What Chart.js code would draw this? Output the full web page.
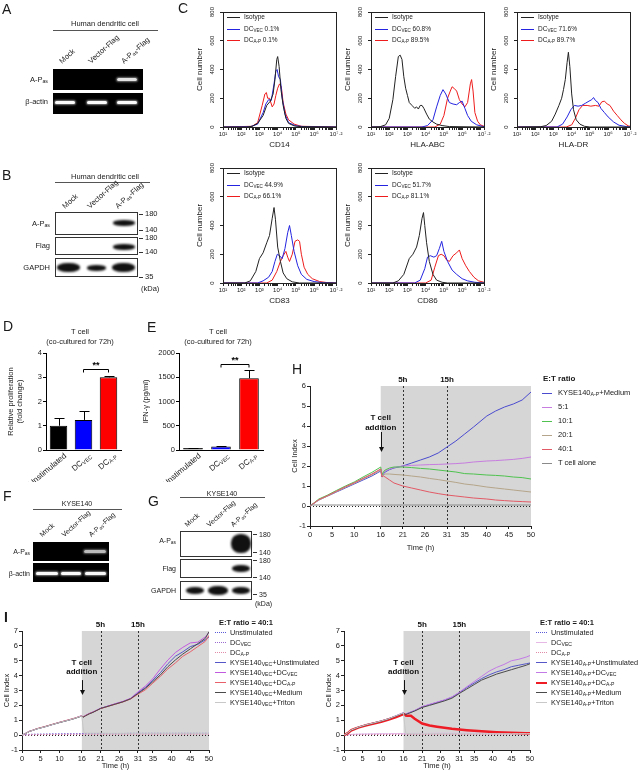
<!DOCTYPE html>
<html>
<head>
<meta charset="utf-8">
<script src="https://cdn.jsdelivr.net/npm/chart.js"></script>
<style>
  body { margin: 0; background: #fff; }
  #fig { position: relative; width: 640px; height: 771px; overflow: hidden; font-family: "Liberation Sans", Arial, sans-serif; color: #1a1a1a; }
  #fig canvas { position: absolute; }
  .t { position: absolute; white-space: nowrap; line-height: 1; filter: grayscale(1); }
  .t sub { font-size: 70%; vertical-align: -1px; line-height: 0; }
  .blk { position: absolute; }
</style>
</head>
<body>
<div id="fig"></div>
<script>
// ---------- datos ----------
// C: histogramas (log10 de la fluorescencia, numero de celulas)
const histTickLabels = ['10¹', '10²', '10³', '10⁴', '10⁵', '10⁶', '10⁷·²'];
const histTickVals = [1, 2, 3, 4, 5, 6, 7.2];

const cd14Iso = [[1,0],[2.3,0],[2.6,5],[2.9,25],[3.2,80],[3.4,150],[3.6,180],[3.75,230],[3.85,330],[3.95,470],[4.0,490],[4.08,420],[4.18,260],[4.3,150],[4.45,60],[4.6,25],[4.9,8],[5.3,2],[7.2,0]];
const cd14Vec = [[1,0],[2.5,2],[2.9,20],[3.2,100],[3.35,160],[3.5,190],[3.65,185],[3.8,300],[3.9,390],[3.97,400],[4.05,350],[4.15,330],[4.25,200],[4.4,90],[4.6,30],[5,8],[5.5,2],[7.2,0]];
const cd14Ap = [[1,0],[2.0,3],[2.6,5],[2.9,30],[3.15,150],[3.3,230],[3.38,240],[3.45,200],[3.55,200],[3.7,140],[3.8,160],[3.9,220],[4.0,270],[4.1,300],[4.2,280],[4.3,170],[4.45,90],[4.6,50],[4.9,20],[5.3,5],[7.2,0]];

const abcIso = [[1,0],[1.5,2],[1.8,15],[2.0,60],[2.2,190],[2.35,350],[2.5,490],[2.6,500],[2.7,470],[2.8,350],[2.9,270],[3.0,220],[3.1,170],[3.25,150],[3.4,130],[3.5,140],[3.6,125],[3.7,150],[3.8,150],[3.9,130],[4.05,90],[4.2,55],[4.4,35],[4.6,20],[4.9,10],[5.3,3],[7.2,0]];
const abcVec = [[1,0],[3.8,0],[4.1,10],[4.4,50],[4.6,140],[4.8,220],[4.95,260],[5.1,230],[5.3,170],[5.5,160],[5.7,155],[5.85,170],[6.0,180],[6.15,130],[6.3,80],[6.5,40],[6.8,15],[7.1,5],[7.2,3]];
const abcAp = [[1,0],[4.5,0],[4.8,20],[5.0,80],[5.2,200],[5.35,250],[5.45,280],[5.55,270],[5.7,250],[5.85,190],[6.0,160],[6.15,140],[6.3,170],[6.45,300],[6.52,330],[6.6,250],[6.7,100],[6.85,40],[7.0,15],[7.2,5]];

const drIso = [[1,0],[2.3,2],[2.6,10],[2.9,40],[3.1,90],[3.3,150],[3.45,200],[3.55,260],[3.65,330],[3.75,450],[3.82,520],[3.9,420],[4.0,230],[4.1,120],[4.25,50],[4.45,20],[4.7,5],[5,0],[7.2,0]];
const drVec = [[1,0],[3.2,0],[3.5,20],[3.75,70],[3.95,120],[4.15,150],[4.35,145],[4.55,150],[4.75,165],[4.95,180],[5.1,190],[5.2,205],[5.3,185],[5.45,170],[5.6,130],[5.8,100],[6.0,70],[6.3,35],[6.6,12],[7.0,3],[7.2,0]];
const drAp = [[1,0],[3.7,0],[4.0,15],[4.2,60],[4.4,120],[4.6,150],[4.85,150],[5.05,145],[5.3,150],[5.5,145],[5.65,175],[5.8,180],[5.95,160],[6.1,150],[6.3,110],[6.5,80],[6.7,50],[6.9,25],[7.1,8],[7.2,5]];

const cd83Iso = [[1,0],[2.2,0],[2.5,15],[2.8,80],[3.0,170],[3.2,210],[3.4,280],[3.55,330],[3.7,450],[3.8,525],[3.88,440],[4.0,250],[4.15,150],[4.3,70],[4.5,30],[4.8,8],[5.2,0],[7.2,0]];
const cd83Vec = [[1,0],[2.9,0],[3.2,15],[3.5,40],[3.7,80],[3.85,150],[3.98,200],[4.1,190],[4.25,170],[4.4,240],[4.55,350],[4.65,400],[4.75,330],[4.9,220],[5.1,120],[5.3,60],[5.6,25],[6.0,10],[6.5,2],[7.2,0]];
const cd83Ap = [[1,0],[3.4,0],[3.7,20],[3.95,80],[4.15,150],[4.3,190],[4.45,220],[4.55,180],[4.65,150],[4.8,200],[4.95,290],[5.1,300],[5.2,290],[5.3,200],[5.45,110],[5.65,60],[5.9,30],[6.3,10],[6.7,3],[7.2,0]];

const cd86Iso = [[1,0],[2.2,0],[2.5,15],[2.8,60],[3.1,170],[3.3,200],[3.5,250],[3.65,330],[3.8,450],[3.88,490],[3.95,400],[4.05,280],[4.2,150],[4.4,60],[4.6,20],[4.9,5],[5.2,0],[7.2,0]];
const cd86Vec = [[1,0],[3.4,0],[3.7,20],[3.95,100],[4.1,180],[4.25,190],[4.45,180],[4.6,190],[4.75,240],[4.88,290],[5.0,220],[5.2,150],[5.45,90],[5.7,60],[6.0,30],[6.3,15],[6.7,5],[7.2,0]];
const cd86Ap = [[1,0],[4.0,0],[4.3,20],[4.5,110],[4.7,190],[4.85,200],[5.0,190],[5.15,160],[5.3,150],[5.5,190],[5.7,210],[5.85,230],[6.0,170],[6.2,120],[6.4,80],[6.65,40],[6.9,15],[7.2,5]];

// D y E: barras
const barLabels = ['Unstimulated', 'DCVEC', 'DCA-P'];
const barMain = ['Unstimulated', 'DC', 'DC'];
const barSub = ['', 'VEC', 'A-P'];
const dValues = [1.0, 1.24, 3.0];
const dErr = [0.3, 0.38, 0.07];
const eValues = [40, 70, 1480];
const eErr = [10, 12, 160];

// H: curvas de Cell Index
const timeTicks = [0, 5, 10, 16, 21, 26, 31, 35, 40, 45, 50];
const tH = [0,2,4,6,8,10,12,14,16,16.3,16.6,17,18,19,21,23,25,27,29,31,33,35,37,40,42,44,46,48,50];
const hMedium = [0,0.3,0.5,0.7,0.9,1.1,1.3,1.5,1.75, 1.45,1.6,1.7,1.82,1.9,2.0,2.15,2.3,2.45,2.65,2.95,3.25,3.6,3.95,4.5,4.75,4.95,5.1,5.3,5.7];
const h5 = [0,0.32,0.52,0.74,0.95,1.15,1.38,1.58,1.85, 1.5,1.65,1.75,1.85,1.92,2.0,2.03,2.05,2.07,2.08,2.1,2.12,2.15,2.2,2.25,2.27,2.3,2.33,2.38,2.45];
const h10 = [0,0.35,0.55,0.78,1.0,1.2,1.45,1.68,1.95, 1.55,1.7,1.8,1.9,1.95,1.95,1.92,1.88,1.85,1.8,1.75,1.7,1.62,1.6,1.55,1.53,1.5,1.45,1.42,1.35];
const h20 = [0,0.3,0.5,0.72,0.93,1.13,1.35,1.55,1.8, 1.5,1.55,1.6,1.6,1.58,1.55,1.5,1.45,1.38,1.32,1.25,1.18,1.1,1.05,0.95,0.9,0.85,0.8,0.75,0.7];
const h40 = [0,0.32,0.52,0.74,0.96,1.16,1.38,1.6,1.85, 1.45,1.5,1.45,1.3,1.15,1.0,0.9,0.8,0.7,0.62,0.55,0.5,0.45,0.4,0.35,0.3,0.27,0.24,0.22,0.2];
const hTcell = [0.05,0.05,0.05,0.05,0.05,0.05,0.05,0.05,0.05, 0.05,0.05,0.05,0.05,0.05,0.05,0.05,0.05,0.05,0.05,0.05,0.05,0.05,0.05,0.05,0.05,0.05,0.05,0.05,0.05];
const hNames = ['KYSE140<sub>A-P</sub>+Medium', '5:1', '10:1', '20:1', '40:1', 'T cell alone'];
const hColors = ['#4b4bd0', '#c77ddf', '#4fc24f', '#b5a58a', '#e25a66', '#8a8a8a'];

// I: curvas con E:T = 40:1
const tI = [0,1,2,3,4,6,8,10,12,14,16,16.3,16.6,17,18,19,21,23,25,27,29,31,33,35,37,39,41,43,45,47,49,50];
const iLUnst = [0.02,0.04,0.05,0.06,0.06,0.07,0.08,0.08,0.09,0.09,0.1,0.1,0.1,0.1,0.1,0.11,0.11,0.11,0.11,0.11,0.12,0.12,0.12,0.12,0.12,0.12,0.12,0.12,0.12,0.12,0.12,0.12];
const iLDcVec = [0,0.02,0.03,0.04,0.05,0.05,0.06,0.07,0.07,0.08,0.08,0.08,0.08,0.08,0.09,0.09,0.09,0.09,0.09,0.1,0.1,0.1,0.1,0.1,0.1,0.1,0.1,0.1,0.1,0.1,0.1,0.1];
const iLDcAp = [0,0.01,0.02,0.03,0.03,0.04,0.04,0.04,0.05,0.05,0.05,0.05,0.05,0.05,0.05,0.05,0.05,0.06,0.06,0.06,0.06,0.06,0.06,0.06,0.06,0.06,0.06,0.06,0.06,0.06,0.06,0.06];
const iLKUnst = [0,0.12,0.25,0.33,0.42,0.55,0.7,0.85,0.98,1.12,1.3,1.22,1.25,1.32,1.45,1.55,1.8,1.95,2.1,2.25,2.45,2.85,3.2,3.7,4.2,4.8,5.3,5.6,5.95,6.1,6.4,6.6];
const iLKDcVec = [0,0.13,0.26,0.34,0.43,0.56,0.71,0.86,0.99,1.13,1.32,1.24,1.27,1.33,1.46,1.56,1.8,1.96,2.12,2.27,2.47,2.9,3.3,3.8,4.45,5.05,5.55,5.9,6.2,6.25,6.6,6.9];
const iLKDcAp = [0,0.12,0.26,0.34,0.44,0.57,0.72,0.86,1.0,1.14,1.3,1.22,1.25,1.31,1.44,1.54,1.78,1.93,2.08,2.23,2.42,2.75,3.05,3.5,3.95,4.45,4.85,5.3,5.6,5.95,6.3,6.7];
const iLKMed = [0,0.12,0.25,0.33,0.42,0.55,0.7,0.84,0.97,1.11,1.28,1.2,1.24,1.3,1.43,1.53,1.79,1.94,2.09,2.24,2.44,2.8,3.15,3.6,4.05,4.6,5.05,5.45,5.8,6.15,6.5,6.95];
const iLKTriton = [0,0.12,0.25,0.33,0.42,0.55,0.7,0.85,0.98,1.12,1.3,0.6,0.15,0.14,0.13,0.13,0.13,0.12,0.12,0.12,0.12,0.12,0.12,0.12,0.12,0.12,0.12,0.12,0.12,0.12,0.12,0.12];

const iRUnst = [0.02,0.03,0.04,0.05,0.05,0.06,0.06,0.07,0.07,0.08,0.08,0.08,0.08,0.08,0.09,0.09,0.09,0.09,0.1,0.1,0.1,0.1,0.1,0.1,0.1,0.1,0.1,0.1,0.1,0.1,0.1,0.1];
const iRDcVec = [0,0.03,0.05,0.06,0.07,0.08,0.09,0.1,0.1,0.11,0.11,0.11,0.11,0.11,0.12,0.12,0.12,0.12,0.13,0.13,0.13,0.13,0.13,0.13,0.13,0.13,0.13,0.13,0.13,0.13,0.13,0.13];
const iRDcAp = [0,0.01,0.02,0.02,0.03,0.03,0.04,0.04,0.04,0.05,0.05,0.05,0.05,0.05,0.05,0.05,0.05,0.05,0.05,0.05,0.05,0.05,0.05,0.05,0.05,0.05,0.05,0.05,0.05,0.05,0.05,0.05];
const iRKUnst = [0,0.15,0.35,0.45,0.55,0.7,0.82,0.95,1.1,1.3,1.5,1.42,1.4,1.45,1.55,1.65,1.9,2.05,2.2,2.35,2.55,2.85,3.2,3.5,3.8,4.05,4.25,4.4,4.6,4.7,4.8,4.85];
const iRKDcVec = [0,0.15,0.35,0.46,0.56,0.71,0.83,0.96,1.11,1.31,1.52,1.43,1.41,1.46,1.56,1.66,1.92,2.07,2.22,2.37,2.57,2.88,3.25,3.6,3.95,4.3,4.55,4.75,5.0,5.1,5.25,5.35];
const iRKDcAp = [0,0.13,0.33,0.43,0.52,0.66,0.78,0.9,1.05,1.22,1.42,1.38,1.32,1.3,1.3,1.1,0.78,0.65,0.57,0.5,0.43,0.38,0.33,0.29,0.26,0.23,0.2,0.18,0.16,0.15,0.13,0.12];
const iRKMed = [0,0.14,0.34,0.44,0.54,0.69,0.81,0.94,1.09,1.28,1.48,1.4,1.38,1.43,1.52,1.62,1.86,2.0,2.15,2.3,2.48,2.8,3.1,3.4,3.7,3.9,4.1,4.25,4.4,4.55,4.7,4.8];
const iRKTriton = [0,0.15,0.35,0.45,0.55,0.7,0.82,0.95,1.1,1.3,1.5,0.7,0.12,0.11,0.1,0.1,0.1,0.1,0.1,0.1,0.1,0.1,0.1,0.1,0.1,0.1,0.1,0.1,0.1,0.1,0.1,0.1];

const iLeftNames = ['Unstimulated', 'DC<sub>VEC</sub>', 'DC<sub>A-P</sub>', 'KYSE140<sub>VEC</sub>+Unstimulated', 'KYSE140<sub>VEC</sub>+DC<sub>VEC</sub>', 'KYSE140<sub>VEC</sub>+DC<sub>A-P</sub>', 'KYSE140<sub>VEC</sub>+Medium', 'KYSE140<sub>VEC</sub>+Triton'];
const iRightNames = ['Unstimulated', 'DC<sub>VEC</sub>', 'DC<sub>A-P</sub>', 'KYSE140<sub>A-P</sub>+Unstimulated', 'KYSE140<sub>A-P</sub>+DC<sub>VEC</sub>', 'KYSE140<sub>A-P</sub>+DC<sub>A-P</sub>', 'KYSE140<sub>A-P</sub>+Medium', 'KYSE140<sub>A-P</sub>+Triton'];
const iLeftColors = ['#5a5ad8', '#9a6ad0', '#e08aa8', '#5656c8', '#c25ae0', '#e8606a', '#4a4a4a', '#c8c8c8'];
const iRightColors = ['#5a5ad8', '#e6b8e6', '#e08aa8', '#5656c8', '#c27ae6', '#ee1c25', '#4a4a4a', '#c8c8c8'];

// geles / blots
const laneNames = ['Mock', 'Vector-Flag', 'A-P<sub>as</sub>-Flag'];

// ---------- utilidades ----------
const fig = document.getElementById('fig');
Chart.defaults.font.family = '"Liberation Sans", Arial, sans-serif';
Chart.defaults.font.size = 7;
Chart.defaults.color = '#1a1a1a';

function put(html, x, y, o = {}) {
  const d = document.createElement('div');
  d.className = 't';
  d.innerHTML = html;
  d.style.left = x + 'px';
  d.style.top = y + 'px';
  d.style.fontSize = (o.size || 7.5) + 'px';
  if (o.bold) d.style.fontWeight = 'bold';
  const tx = o.align === 'c' ? '-50%' : o.align === 'r' ? '-100%' : '0';
  d.style.transform = `translate(${tx},-50%)`;
  fig.appendChild(d);
  return d;
}

function lane(html, x, y, size) {
  const d = document.createElement('div');
  d.className = 't';
  d.innerHTML = html;
  d.style.left = x + 'px';
  d.style.top = y + 'px';
  d.style.fontSize = size + 'px';
  d.style.transformOrigin = '0 0';
  d.style.transform = 'rotate(-42deg) translateY(-100%)';
  fig.appendChild(d);
}

function blk(x, y, w, h, css) {
  const d = document.createElement('div');
  d.className = 'blk';
  d.style.left = x + 'px';
  d.style.top = y + 'px';
  d.style.width = w + 'px';
  d.style.height = h + 'px';
  Object.assign(d.style, css);
  fig.appendChild(d);
}

function hline(x1, x2, y) { blk(x1, y, x2 - x1, 1, { background: '#555' }); }

function gelBand(x1, x2, y, op) {
  blk(x1, y - 1.5, x2 - x1, 3, { background: `rgba(250,250,250,${op})`, borderRadius: '2px', boxShadow: `0 0 2px 1px rgba(255,255,255,${op * 0.5})` });
}

function wbBand(x1, x2, y1, y2) {
  blk(x1, y1, x2 - x1, y2 - y1, { background: '#111', borderRadius: '45%', filter: 'blur(0.8px)' });
}

function makeCanvas(x, y, w, h) {
  const c = document.createElement('canvas');
  c.width = w; c.height = h;
  c.style.left = x + 'px'; c.style.top = y + 'px';
  c.style.width = w + 'px'; c.style.height = h + 'px';
  fig.appendChild(c);
  return c;
}

function fixW(w) { return s => { s.width = w; s.paddingTop = 0; s.paddingBottom = 0; s.paddingLeft = 0; s.paddingRight = 0; }; }
function fixH(h) { return s => { s.height = h; s.paddingTop = 0; s.paddingBottom = 0; s.paddingLeft = 0; s.paddingRight = 0; }; }

const framePlugin = {
  id: 'marco',
  afterDatasetsDraw(chart) {
    const a = chart.chartArea, ctx = chart.ctx;
    ctx.save();
    ctx.strokeStyle = '#222'; ctx.lineWidth = 1;
    ctx.strokeRect(Math.round(a.left) + 0.5, Math.round(a.top) + 0.5, Math.round(a.right - a.left), Math.round(a.bottom - a.top));
    // etiquetas del eje y giradas, como en el original
    const ys = chart.scales.y;
    ctx.fillStyle = '#1a1a1a';
    ctx.font = '6px "Liberation Sans", Arial';
    ctx.textAlign = 'center'; ctx.textBaseline = 'bottom';
    ys.ticks.forEach(t => {
      ctx.save();
      ctx.translate(ys.right - 8, ys.getPixelForValue(t.value));
      ctx.rotate(-Math.PI / 2);
      ctx.fillText(String(t.value), 0, 0);
      ctx.restore();
    });
    ctx.restore();
  }
};

// ---------- C: histogramas ----------
const minorTicks = [];
for (let n = 1; n <= 7; n++) for (let k = 1; k <= 9; k++) { const v = n + Math.log10(k); if (v <= 7.2) minorTicks.push(v); }
minorTicks.push(7.2);

function histo(x, y, series, title, legendNames) {
  const cv = makeCanvas(x, y - 4, 160, 148);
  const cols = ['#222', '#2424e0', '#ee1c1c'];
  new Chart(cv, {
    type: 'line',
    data: {
      datasets: series.map((s, i) => ({
        data: s.map(p => ({ x: p[0], y: p[1] })),
        borderColor: cols[i], borderWidth: 1, pointRadius: 0, tension: 0
      }))
    },
    options: {
      responsive: false, animation: false, devicePixelRatio: 1,
      layout: { padding: { top: 8, right: 18, left: 0, bottom: 0 } },
      plugins: { legend: { display: false }, tooltip: { enabled: false } },
      scales: {
        x: {
          type: 'linear', min: 1, max: 7.2,
          afterBuildTicks: s => { s.ticks = minorTicks.map(v => ({ value: v })); },
          afterFit: fixH(25),
          grid: { drawOnChartArea: false, tickLength: 3, color: '#222' },
          border: { color: '#222' },
          ticks: {
            autoSkip: false, maxRotation: 0, padding: 1, font: { size: 6 },
            callback: v => { const i = histTickVals.findIndex(t => Math.abs(t - v) < 1e-6); return i >= 0 ? histTickLabels[i] : ''; }
          },
          title: { display: true, text: title, font: { size: 8 }, padding: { top: 0, bottom: 2 } }
        },
        y: {
          min: 0, max: 800,
          afterFit: fixW(29),
          grid: { drawOnChartArea: false, tickLength: 3, color: '#222' },
          border: { color: '#222' },
          ticks: { stepSize: 200, display: false },
          title: { display: true, text: 'Cell number', font: { size: 8 }, padding: 1 }
        }
      }
    },
    plugins: [framePlugin]
  });
  // leyenda
  const lx = x + 33, ly = y + 9;
  legendNames.forEach((nm, i) => {
    blk(lx, ly + i * 11.5, 13, 1, { background: cols[i] });
    put(nm, lx + 17, ly + i * 11.5, { size: 6.5 });
  });
}

histo(194, 8, [cd14Iso, cd14Vec, cd14Ap], 'CD14', ['Isotype', 'DC<sub>VEC</sub> 0.1%', 'DC<sub>A-P</sub> 0.1%']);
histo(342, 8, [abcIso, abcVec, abcAp], 'HLA-ABC', ['Isotype', 'DC<sub>VEC</sub> 60.8%', 'DC<sub>A-P</sub> 89.5%']);
histo(488, 8, [drIso, drVec, drAp], 'HLA-DR', ['Isotype', 'DC<sub>VEC</sub> 71.6%', 'DC<sub>A-P</sub> 89.7%']);
histo(194, 164, [cd83Iso, cd83Vec, cd83Ap], 'CD83', ['Isotype', 'DC<sub>VEC</sub> 44.9%', 'DC<sub>A-P</sub> 66.1%']);
histo(342, 164, [cd86Iso, cd86Vec, cd86Ap], 'CD86', ['Isotype', 'DC<sub>VEC</sub> 51.7%', 'DC<sub>A-P</sub> 81.1%']);

// ---------- D y E: barras ----------
function barExtras(errs, bracketVal) {
  return {
    id: 'extras',
    afterDatasetsDraw(chart) {
      const ctx = chart.ctx, meta = chart.getDatasetMeta(0), ys = chart.scales.y, xs = chart.scales.x;
      const vals = chart.data.datasets[0].data;
      ctx.save();
      ctx.strokeStyle = '#000'; ctx.lineWidth = 1;
      meta.data.forEach((bar, i) => {
        const y0 = ys.getPixelForValue(vals[i]);
        const y1 = Math.round(ys.getPixelForValue(vals[i] + errs[i])) + 0.5;
        const bx = Math.round(bar.x) + 0.5;
        ctx.beginPath();
        ctx.moveTo(bx, y0); ctx.lineTo(bx, y1);
        ctx.moveTo(bx - 5, y1); ctx.lineTo(bx + 5, y1);
        ctx.stroke();
      });
      // corchete de significancia entre DCVEC y DCA-P
      const b1 = meta.data[1].x, b2 = meta.data[2].x;
      const yb = Math.round(ys.getPixelForValue(bracketVal)) + 0.5;
      ctx.beginPath();
      ctx.moveTo(b1, yb + 3); ctx.lineTo(b1, yb); ctx.lineTo(b2, yb); ctx.lineTo(b2, yb + 3);
      ctx.stroke();
      ctx.fillStyle = '#000';
      ctx.font = 'bold 9px "Liberation Sans", Arial';
      ctx.textAlign = 'center'; ctx.textBaseline = 'bottom';
      ctx.fillText('**', (b1 + b2) / 2, yb + 1);
      // etiquetas rotadas con subindices
      ctx.fillStyle = '#1a1a1a';
      meta.data.forEach((bar, i) => {
        ctx.save();
        ctx.translate(bar.x + 7, xs.top + 5);
        ctx.rotate(-40 * Math.PI / 180);
        ctx.textBaseline = 'middle';
        ctx.font = '5.5px "Liberation Sans", Arial';
        const sw = barSub[i] ? ctx.measureText(barSub[i]).width : 0;
        ctx.textAlign = 'right';
        if (barSub[i]) ctx.fillText(barSub[i], 0, 2);
        ctx.font = '8px "Liberation Sans", Arial';
        ctx.fillText(barMain[i], -sw, 0);
        ctx.restore();
      });
      ctx.restore();
    }
  };
}

function barChart(x, y, w, wy, values, errs, max, step, ytitle, bracketVal) {
  const cv = makeCanvas(x, y, w, 134);
  new Chart(cv, {
    type: 'bar',
    data: {
      labels: barLabels,
      datasets: [{
        data: values,
        backgroundColor: ['#000000', '#0000ff', '#ff0000'],
        borderColor: '#000', borderWidth: 1,
        barPercentage: 0.7, categoryPercentage: 1
      }]
    },
    options: {
      responsive: false, animation: false, devicePixelRatio: 1,
      layout: { padding: { top: 5, right: 4, left: 0, bottom: 0 } },
      plugins: { legend: { display: false }, tooltip: { enabled: false } },
      scales: {
        x: {
          offset: true,
          afterFit: fixH(32),
          grid: { display: false },
          border: { color: '#000' },
          ticks: { display: false }
        },
        y: {
          min: 0, max: max,
          afterFit: fixW(wy),
          grid: { drawOnChartArea: false, tickLength: 3, color: '#000' },
          border: { color: '#000' },
          ticks: { stepSize: step, padding: 1, font: { size: 7.5 }, callback: v => String(v) },
          title: { display: true, text: ytitle, font: { size: 7.5 }, padding: 1 }
        }
      }
    },
    plugins: [barExtras(errs, bracketVal)]
  });
}

barChart(5, 348, 120, 41, dValues, dErr, 4, 1, ['Relative proliferation', '(fold change)'], 3.35);
barChart(140, 348, 127, 39, eValues, eErr, 2000, 500, 'IFN-γ (pg/ml)', 1780);

put('T cell', 80, 332, { align: 'c' });
put('(co-cultured for 72h)', 80, 342, { align: 'c' });
put('T cell', 218, 332, { align: 'c' });
put('(co-cultured for 72h)', 218, 342, { align: 'c' });

// ---------- H e I: curvas ----------
function timePlugin(opt) {
  return {
    id: 'tiempo',
    beforeDatasetsDraw(chart) {
      const { ctx, chartArea: a, scales: { x, y } } = chart;
      const x16 = x.getPixelForValue(16);
      ctx.save();
      ctx.fillStyle = '#d6d6d6';
      ctx.fillRect(x16, a.top, a.right - x16, a.bottom - a.top);
      ctx.strokeStyle = '#333'; ctx.lineWidth = 1;
      ctx.setLineDash([2, 2]);
      [21, 31].forEach(v => {
        const px = Math.round(x.getPixelForValue(v)) + 0.5;
        ctx.beginPath(); ctx.moveTo(px, a.top); ctx.lineTo(px, a.bottom); ctx.stroke();
      });
      ctx.setLineDash([1, 2]);
      ctx.strokeStyle = '#222';
      const y0 = Math.round(y.getPixelForValue(0)) + 0.5;
      ctx.beginPath(); ctx.moveTo(a.left, y0); ctx.lineTo(a.right, y0); ctx.stroke();
      ctx.restore();
    },
    afterDraw(chart) {
      const { ctx, chartArea: a, scales: { x, y } } = chart;
      ctx.save();
      ctx.fillStyle = '#111';
      ctx.font = 'bold 8px "Liberation Sans", Arial';
      ctx.textAlign = 'center'; ctx.textBaseline = 'bottom';
      ctx.fillText('5h', x.getPixelForValue(21), a.top - 2);
      ctx.fillText('15h', x.getPixelForValue(31), a.top - 2);
      const x16 = x.getPixelForValue(16);
      ctx.textBaseline = 'middle';
      ctx.fillText('T cell', x16, y.getPixelForValue(opt.label1));
      ctx.fillText('addition', x16, y.getPixelForValue(opt.label2));
      const ya = y.getPixelForValue(opt.arrowFrom), yb = y.getPixelForValue(opt.arrowTo);
      const xa = Math.round(x16) + 0.5;
      ctx.strokeStyle = '#111'; ctx.lineWidth = 1;
      ctx.beginPath(); ctx.moveTo(xa, ya); ctx.lineTo(xa, yb - 3); ctx.stroke();
      ctx.beginPath(); ctx.moveTo(xa - 2.5, yb - 5); ctx.lineTo(xa + 2.5, yb - 5); ctx.lineTo(xa, yb); ctx.closePath(); ctx.fill();
      ctx.restore();
    }
  };
}

function timeChart(x, y, w, h, padTop, ymax, datasets, opt) {
  const cv = makeCanvas(x, y, w, h);
  new Chart(cv, {
    type: 'line',
    data: { datasets: datasets },
    options: {
      responsive: false, animation: false, devicePixelRatio: 1,
      layout: { padding: { top: padTop, right: 7, left: 0, bottom: 0 } },
      plugins: { legend: { display: false }, tooltip: { enabled: false } },
      elements: { point: { radius: 0 }, line: { tension: 0 } },
      scales: {
        x: {
          type: 'linear', min: 0, max: 50,
          afterBuildTicks: s => { s.ticks = timeTicks.map(v => ({ value: v })); },
          afterFit: fixH(opt.hx),
          grid: { drawOnChartArea: false, tickLength: 3, color: '#222' },
          border: { color: '#222' },
          ticks: { autoSkip: false, maxRotation: 0, padding: 1, font: { size: 7.5 } },
          title: { display: true, text: 'Time (h)', font: { size: 7.5 }, padding: { top: 0, bottom: 1 } }
        },
        y: {
          min: -1, max: ymax,
          afterFit: fixW(20),
          grid: { drawOnChartArea: false, tickLength: 3, color: '#222' },
          border: { color: '#222' },
          ticks: { stepSize: 1, padding: 1, font: { size: 7.5 } },
          title: { display: true, text: 'Cell Index', font: { size: 7.5 }, padding: 0 }
        }
      }
    },
    plugins: [timePlugin(opt)]
  });
}

function serie(ts, vals, color, extra) {
  return Object.assign({ data: ts.map((t, i) => ({ x: t, y: vals[i] })), borderColor: color, borderWidth: 1 }, extra || {});
}

// H
const hSeries = [hMedium, h5, h10, h20, h40, hTcell];
timeChart(290, 370, 248, 183, 16, 6,
  hSeries.map((s, i) => serie(tH, s, hColors[i])).reverse(),
  { hx: 27, label1: 4.4, label2: 3.9, arrowFrom: 3.7, arrowTo: 2.7 });

put('E:T ratio', 543, 379, { bold: true, size: 8 });
hNames.forEach((nm, i) => {
  const yy = 393 + i * 14;
  blk(542, yy, 10, 1, { background: hColors[i] });
  put(nm, 558, yy, { size: 7.5 });
});

// I izquierda y derecha
const dotted = { borderDash: [1.5, 1.5] };
const iLeft = [iLUnst, iLDcVec, iLDcAp, iLKUnst, iLKDcVec, iLKDcAp, iLKMed, iLKTriton];
const iRight = [iRUnst, iRDcVec, iRDcAp, iRKUnst, iRKDcVec, iRKDcAp, iRKMed, iRKTriton];
const iOpt = { hx: 21, label1: 4.83, label2: 4.23, arrowFrom: 3.7, arrowTo: 2.7 };

timeChart(2, 612, 214, 159, 19, 7,
  iLeft.map((s, i) => serie(tI, s, iLeftColors[i], i < 3 ? dotted : {})).reverse(),
  iOpt);
timeChart(324, 612, 213, 159, 19, 7,
  iRight.map((s, i) => serie(tI, s, iRightColors[i], i === 0 || i === 2 ? dotted : (i === 5 ? { borderWidth: 2.5 } : {}))).reverse(),
  iOpt);

function iLegend(x, names, colors, thick) {
  put('E:T ratio = 40:1', x + 4, 623, { bold: true, size: 7.5 });
  names.forEach((nm, i) => {
    const yy = 633 + i * 10;
    const isDot = i < 3 && !(thick && i === 1);
    const lw = (thick && i === 5) ? 2.5 : 1.5;
    blk(x, yy - lw / 2, 11, 0, { borderTop: `${lw}px ${isDot ? 'dotted' : 'solid'} ${colors[i]}` });
    put(nm, x + 15, yy, { size: 7.3 });
  });
}
iLegend(215, iLeftNames, iLeftColors, false);
iLegend(536, iRightNames, iRightColors, true);

// ---------- A: RT-PCR ----------
put('A', 2, 9, { size: 14 });
put('Human dendritic cell', 105, 24, { align: 'c', size: 7.5 });
hline(53, 158, 30);
[63, 92, 125].forEach((lx, i) => lane(laneNames[i], lx, 65, 7.5));
blk(53, 69, 90, 21, { background: '#000' });
blk(53, 93, 90, 21, { background: '#000' });
gelBand(117, 137, 79, 0.9);
[[55, 75], [87, 107], [117, 137]].forEach(b => gelBand(b[0], b[1], 102, 1));
put('A-P<sub>as</sub>', 48, 80, { align: 'r', size: 7.5 });
put('β-actin', 48, 102, { align: 'r', size: 7.5 });

// ---------- B: western blot ----------
put('B', 2, 175, { size: 14 });
put('Human dendritic cell', 105, 177, { align: 'c', size: 7.5 });
hline(55, 150, 182);
[66, 91, 119].forEach((lx, i) => lane(laneNames[i], lx, 210, 7.5));
blk(55, 212, 83, 23, { border: '1px solid #333', boxSizing: 'border-box' });
blk(55, 237, 83, 18, { border: '1px solid #333', boxSizing: 'border-box' });
blk(55, 258, 83, 19, { border: '1px solid #333', boxSizing: 'border-box' });
wbBand(113, 135, 220, 226);
wbBand(113, 135, 244, 250);
wbBand(57, 80, 263, 272);
wbBand(87, 106, 265, 271);
wbBand(112, 135, 263, 272);
put('A-P<sub>as</sub>', 50, 224, { align: 'r' });
put('Flag', 50, 246, { align: 'r' });
put('GAPDH', 50, 268, { align: 'r' });
[[214, '180'], [230, '140'], [238, '180'], [252, '140'], [277, '35']].forEach(m => {
  blk(139, m[0], 4, 1, { background: '#333' });
  put(m[1], 145, m[0], { size: 7.5 });
});
put('(kDa)', 141, 289, { size: 7.5 });

// ---------- C ----------
put('C', 178, 8, { size: 14 });

// ---------- D, E ----------
put('D', 3, 326, { size: 14 });
put('E', 147, 327, { size: 14 });

// ---------- F: RT-PCR KYSE140 ----------
put('F', 3, 496, { size: 14 });
put('KYSE140', 77, 503, { align: 'c', size: 7 });
hline(33, 122, 509);
[43, 65, 92].forEach((lx, i) => lane(laneNames[i], lx, 538, 7));
blk(33, 542, 76, 19, { background: '#000' });
blk(33, 563, 76, 19, { background: '#000' });
gelBand(84, 106, 551, 0.75);
[[36, 58], [61, 81], [85, 106]].forEach(b => gelBand(b[0], b[1], 573, 1));
put('A-P<sub>as</sub>', 30, 551, { align: 'r', size: 7 });
put('β-actin', 30, 573, { align: 'r', size: 7 });

// ---------- G: western KYSE140 ----------
put('G', 148, 501, { size: 14 });
put('KYSE140', 222, 493, { align: 'c', size: 7 });
hline(180, 265, 497);
[188, 210, 234].forEach((lx, i) => lane(laneNames[i], lx, 528, 7));
blk(180, 531, 72, 26, { border: '1px solid #333', boxSizing: 'border-box' });
blk(180, 559, 72, 19, { border: '1px solid #333', boxSizing: 'border-box' });
blk(180, 581, 72, 19, { border: '1px solid #333', boxSizing: 'border-box' });
wbBand(231, 251, 534, 553);
wbBand(232, 250, 565, 572);
wbBand(186, 204, 587, 594);
wbBand(208, 228, 586, 595);
wbBand(232, 250, 587, 594);
put('A-P<sub>as</sub>', 176, 540, { align: 'r', size: 7 });
put('Flag', 176, 568, { align: 'r', size: 7 });
put('GAPDH', 176, 590, { align: 'r', size: 7 });
[[534, '180'], [552, '140'], [560, '180'], [577, '140'], [594, '35']].forEach(m => {
  blk(253, m[0], 4, 1, { background: '#333' });
  put(m[1], 259, m[0], { size: 7 });
});
put('(kDa)', 255, 603, { size: 7 });

// ---------- H, I ----------
put('H', 292, 369, { size: 14 });
put('I', 4, 617, { size: 14, bold: true });
</script>
</body>
</html>
